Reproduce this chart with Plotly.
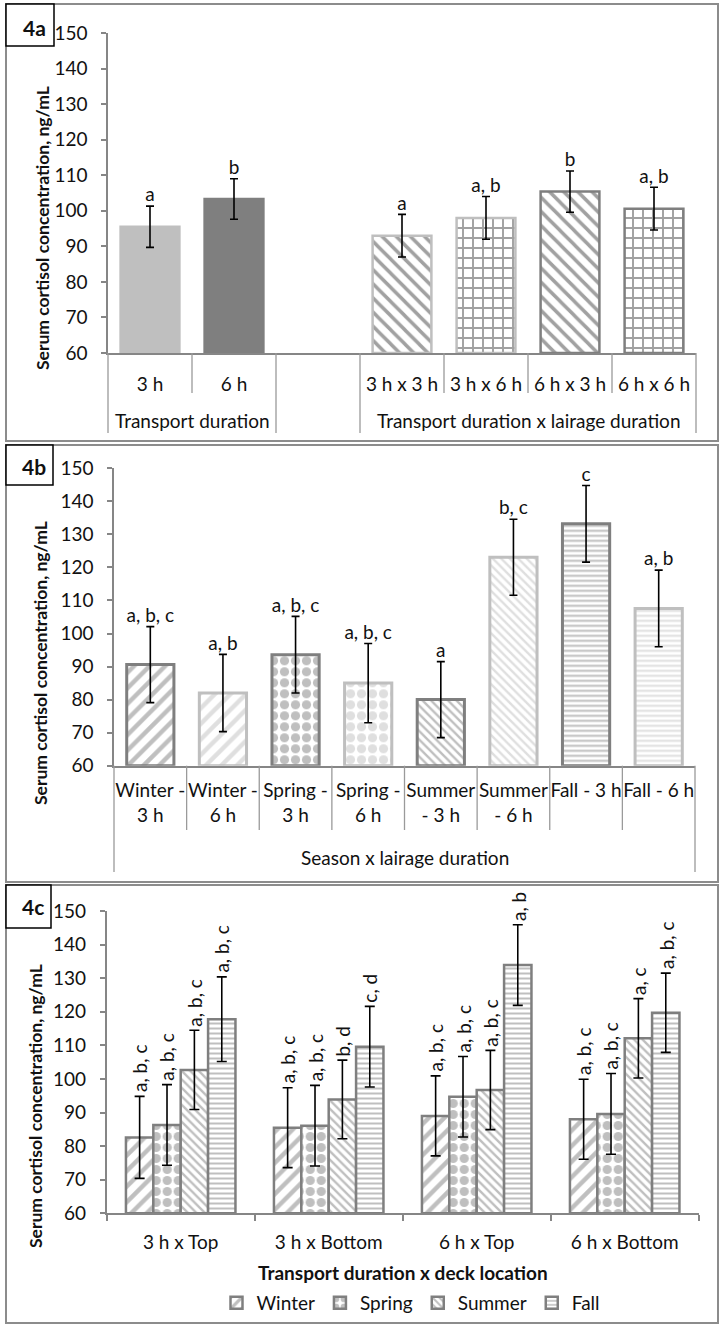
import plotly.graph_objects as go

W, H = 724, 1327
FONT = "Lato"
AX = "#868686"
TBL = "#9a9a9a"
LIGHT = "#bfbfbf"
DARK = "#7f7f7f"
TXT = "#111111"
FS = 19


def px(x):
    return x / W


def py(y):
    return 1 - y / H


# ---------------- Panel 4a data ----------------
a_categories = ["3 h", "6 h", " ", "3 h x 3 h", "3 h x 6 h", "6 h x 3 h", "6 h x 6 h"]
a_bar_categories = ["3 h", "6 h", "3 h x 3 h", "3 h x 6 h", "6 h x 3 h", "6 h x 6 h"]
a_values = [95.5, 103.3, 93.0, 98.0, 105.4, 100.6]
a_errors = [5.8, 5.7, 6.0, 6.0, 5.8, 6.0]
a_letters = ["a", "b", "a", "a, b", "b", "a, b"]
a_group_labels = ["Transport duration", "Transport duration x lairage duration"]

# ---------------- Panel 4b data ----------------
b_categories = ["Winter -<br>3 h", "Winter -<br>6 h", "Spring -<br>3 h", "Spring -<br>6 h",
                "Summer<br>- 3 h", "Summer<br>- 6 h", "Fall - 3 h", "Fall - 6 h"]
b_values = [90.6, 82.0, 93.6, 85.0, 80.0, 123.1, 133.2, 107.6]
b_errors = [11.5, 11.7, 11.6, 12.0, 11.5, 11.5, 11.6, 11.6]
b_letters = ["a, b, c", "a, b", "a, b, c", "a, b, c", "a", "b, c", "c", "a, b"]
b_group_label = "Season x lairage duration"

# ---------------- Panel 4c data ----------------
c_categories = ["3 h x Top", "3 h x Bottom", "6 h x Top", "6 h x Bottom"]
c_seasons = ["Winter", "Spring", "Summer", "Fall"]
c_winter = [82.6, 85.5, 89.0, 88.0]
c_spring = [86.3, 86.1, 94.7, 89.6]
c_summer = [102.7, 93.9, 96.7, 112.1]
c_fall = [117.8, 109.6, 133.9, 119.7]
c_winter_err = [12.2, 11.9, 11.9, 11.9]
c_spring_err = [12.0, 12.0, 12.0, 12.0]
c_summer_err = [11.8, 11.7, 11.8, 11.8]
c_fall_err = [12.6, 12.0, 12.0, 11.8]
c_winter_letters = ["a, b, c", "a, b, c", "a, b, c", "a, b, c"]
c_spring_letters = ["a, b, c", "a, b, c", "a, b, c", "a, b, c"]
c_summer_letters = ["a, b, c", "b, d", "a, b, c", "a, c"]
c_fall_letters = ["a, b, c", "c, d", "a, b", "a, b, c"]
c_xtitle = "Transport duration x deck location"
y_title = "Serum cortisol concentration, ng/mL"

fig = go.Figure()

# ---- Panel a bars ----
a_colors = [LIGHT, DARK, LIGHT, LIGHT, DARK, DARK]
a_shapes = ["", "", "\\", "+", "\\", "+"]
a_bg = [LIGHT, DARK, "white", "white", "white", "white"]
fig.add_trace(go.Bar(
    x=a_bar_categories, y=[v - 60 for v in a_values], base=60, width=0.7,
    xaxis="x", yaxis="y", showlegend=False,
    marker=dict(color=a_bg, line=dict(color=a_colors, width=2.5),
                pattern=dict(shape=a_shapes, fgcolor=a_colors, bgcolor=a_bg,
                             size=10, solidity=0.35)),
    error_y=dict(type="data", array=a_errors, color="black", thickness=1.6, width=4),
))
fig.add_trace(go.Scatter(
    x=a_bar_categories, y=[v + e for v, e in zip(a_values, a_errors)],
    text=a_letters, mode="text", textposition="top center",
    textfont=dict(family=FONT, size=FS, color=TXT),
    xaxis="x", yaxis="y", showlegend=False, cliponaxis=False, hoverinfo="skip"))

# ---- Panel b bars ----
b_colors = [DARK, LIGHT, DARK, LIGHT, DARK, LIGHT, DARK, LIGHT]
b_shapes = ["/", "/", ".", ".", "\\", "\\", "-", "-"]
b_sizes = [11, 11, 11, 11, 6, 6, 5, 5]
b_solid = [0.4, 0.4, 0.55, 0.55, 0.4, 0.4, 0.4, 0.4]
fig.add_trace(go.Bar(
    x=b_categories, y=[v - 60 for v in b_values], base=60, width=0.65,
    xaxis="x2", yaxis="y2", showlegend=False,
    marker=dict(color="white", line=dict(color=b_colors, width=3),
                pattern=dict(shape=b_shapes, fgcolor=b_colors, bgcolor="white",
                             size=b_sizes, solidity=b_solid)),
    error_y=dict(type="data", array=b_errors, color="black", thickness=1.6, width=4),
))
fig.add_trace(go.Scatter(
    x=b_categories, y=[v + e for v, e in zip(b_values, b_errors)],
    text=b_letters, mode="text", textposition="top center",
    textfont=dict(family=FONT, size=FS, color=TXT),
    xaxis="x2", yaxis="y2", showlegend=False, cliponaxis=False, hoverinfo="skip"))

# ---- Panel c bars ----
c_series = [c_winter, c_spring, c_summer, c_fall]
c_errs = [c_winter_err, c_spring_err, c_summer_err, c_fall_err]
c_lets = [c_winter_letters, c_spring_letters, c_summer_letters, c_fall_letters]
c_pshapes = ["/", ".", "\\", "-"]
c_psizes = [11, 11, 6, 5]
c_psolid = [0.4, 0.55, 0.4, 0.4]
c_bargap = 0.26
for s, name in enumerate(c_seasons):
    fig.add_trace(go.Bar(
        x=c_categories, y=[v - 60 for v in c_series[s]], base=60, name=name,
        xaxis="x3", yaxis="y3",
        marker=dict(color="white", line=dict(color=DARK, width=2.5),
                    pattern=dict(shape=c_pshapes[s], fgcolor=DARK, bgcolor="white",
                                 size=c_psizes[s], solidity=c_psolid[s])),
        error_y=dict(type="data", array=c_errs[s], color="black", thickness=1.6, width=5),
    ))

annotations = []
gw = 1 - c_bargap
bw = gw / len(c_seasons)
for s in range(len(c_seasons)):
    for i in range(len(c_categories)):
        annotations.append(dict(
            x=i - gw / 2 + (s + 0.5) * bw, y=c_series[s][i] + c_errs[s][i],
            xref="x3", yref="y3", text=c_lets[s][i], textangle=-90,
            showarrow=False, xanchor="center", yanchor="bottom", yshift=2,
            font=dict(family=FONT, size=FS, color=TXT)))

# ---------------- axes ----------------
tickfont = dict(family=FONT, size=FS, color=TXT)


def yax(top, bottom):
    return dict(domain=[py(bottom), py(top)], range=[60, 150], dtick=10,
                showline=True, linecolor=AX, linewidth=1.5, ticks="outside",
                ticklen=5, tickcolor=AX, tickwidth=1.5, showgrid=False,
                zeroline=False, tickfont=tickfont, ticklabelstandoff=10,
                automargin=False)


fig.update_layout(
    width=W, height=H, margin=dict(l=0, r=0, t=0, b=0, autoexpand=False),
    paper_bgcolor="white", plot_bgcolor="white",
    barmode="group", bargap=c_bargap, bargroupgap=0,
    font=dict(family=FONT, color=TXT),
    xaxis=dict(domain=[px(108), px(696)], anchor="y", type="category",
               categoryorder="array", categoryarray=a_categories,
               range=[-0.5, len(a_categories) - 0.5], tickangle=0,
               showline=True, linecolor=AX, linewidth=1.5, ticks="",
               tickfont=tickfont, ticklabelstandoff=13, showgrid=False,
               automargin=False),
    yaxis=dict(anchor="x", **yax(33, 353)),
    xaxis2=dict(domain=[px(114), px(695)], anchor="y2", type="category",
                categoryorder="array", categoryarray=b_categories,
                range=[-0.5, len(b_categories) - 0.5], tickangle=0,
                showline=True, linecolor=AX, linewidth=1.5, ticks="",
                tickfont=tickfont, ticklabelstandoff=7, showgrid=False,
                automargin=False),
    yaxis2=dict(anchor="x2", **yax(468.3, 765.7)),
    xaxis3=dict(domain=[px(106.7), px(698.7)], anchor="y3", type="category",
                categoryorder="array", categoryarray=c_categories,
                range=[-0.5, len(c_categories) - 0.5], tickson="boundaries",
                tickangle=0,
                showline=True, linecolor=AX, linewidth=1.5, ticks="outside",
                ticklen=6, tickcolor=AX, tickwidth=1.5,
                tickfont=tickfont, ticklabelstandoff=11, showgrid=False,
                automargin=False),
    yaxis3=dict(anchor="x3", **yax(911, 1213.3)),
    legend=dict(orientation="h", x=px(411), xanchor="center", y=py(1303),
                yanchor="middle", font=dict(family=FONT, size=FS, color=TXT),
                bgcolor="rgba(0,0,0,0)", itemwidth=30),
)

shapes = []

# panel frames
for top, bot in [(4, 441), (445, 882), (885, 1323)]:
    shapes.append(dict(type="rect", xref="paper", yref="paper", x0=px(6), x1=px(718),
                       y0=py(bot), y1=py(top), line=dict(color="#8c8c8c", width=2)))
# label boxes
for (x1, top, bot) in [(54, 4, 46), (53, 445, 485), (51, 885, 928)]:
    shapes.append(dict(type="rect", xref="paper", yref="paper", x0=px(6), x1=px(x1),
                       y0=py(bot), y1=py(top), line=dict(color="black", width=1.5),
                       fillcolor="white"))

# category table for panel a
na = len(a_categories)
a_outer = [0, 2, 3, na]
for k in range(na + 1):
    bottom = 433 if k in a_outer else 393
    shapes.append(dict(type="line", xref="x domain", yref="paper", x0=k / na, x1=k / na,
                       y0=py(353), y1=py(bottom), line=dict(color=TBL, width=1.3)))
# category table for panel b
nb = len(b_categories)
for k in range(nb + 1):
    bottom = 872 if k in (0, nb) else 830
    shapes.append(dict(type="line", xref="x2 domain", yref="paper", x0=k / nb, x1=k / nb,
                       y0=py(765.7), y1=py(bottom), line=dict(color=TBL, width=1.3)))

fig.update_layout(shapes=shapes)


def ann(**kw):
    kw.setdefault("showarrow", False)
    kw.setdefault("xanchor", "center")
    kw.setdefault("yanchor", "middle")
    return kw


# group labels
annotations.append(ann(xref="x domain", yref="paper", x=1 / na, y=py(421),
                       text=a_group_labels[0], font=dict(family=FONT, size=FS, color=TXT)))
annotations.append(ann(xref="x domain", yref="paper", x=(3 + na) / 2 / na, y=py(421),
                       text=a_group_labels[1], font=dict(family=FONT, size=FS, color=TXT)))
annotations.append(ann(xref="x2 domain", yref="paper", x=0.5, y=py(857),
                       text=b_group_label, font=dict(family=FONT, size=FS, color=TXT)))
annotations.append(ann(xref="x3 domain", yref="paper", x=0.5, y=py(1272),
                       text="<b>" + c_xtitle + "</b>", font=dict(family=FONT, size=FS, color=TXT)))
# y titles
for xc, yc in [(42, 228), (40, 663), (35, 1106)]:
    annotations.append(ann(xref="paper", yref="paper", x=px(xc), y=py(yc),
                           text="<b>" + y_title + "</b>", textangle=-90,
                           font=dict(family=FONT, size=17.5, color=TXT)))
# panel labels
for lab, xc, yc in [("4a", 34, 28), ("4b", 34, 467), ("4c", 33, 906)]:
    annotations.append(ann(xref="paper", yref="paper", x=px(xc), y=py(yc), text="<b>" + lab + "</b>",
                           font=dict(family=FONT, size=21, color=TXT)))

fig.update_layout(annotations=annotations)
fig.write_html("out.html", config={"displayModeBar": False},
               post_script="document.body.style.margin='0';")
